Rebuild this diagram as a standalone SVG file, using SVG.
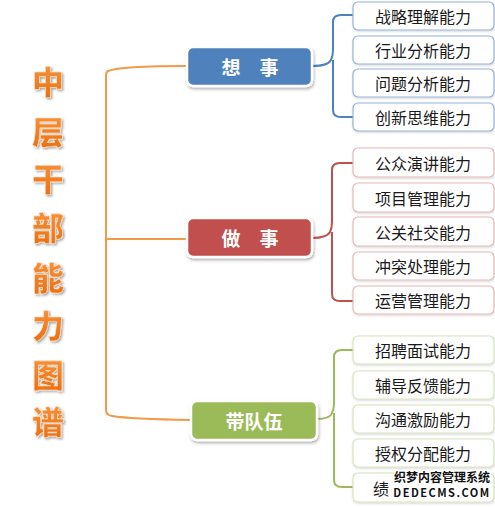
<svg xmlns="http://www.w3.org/2000/svg" width="495" height="507" viewBox="0 0 495 507">
<defs>
<filter id="sh" x="-20%" y="-30%" width="140%" height="170%"><feDropShadow dx="1" dy="2" stdDeviation="1.5" flood-color="#000" flood-opacity="0.3"/></filter>
<filter id="sh2" x="-10%" y="-30%" width="120%" height="160%"><feDropShadow dx="0.5" dy="1" stdDeviation="0.8" flood-color="#000" flood-opacity="0.18"/></filter>
<filter id="tsh" x="-30%" y="-30%" width="160%" height="160%"><feDropShadow dx="1.5" dy="1.5" stdDeviation="1" flood-color="#000" flood-opacity="0.35"/></filter>
<linearGradient id="og" x1="0" y1="0" x2="0" y2="1"><stop offset="0" stop-color="#F89A45"/><stop offset="1" stop-color="#EC6A0C"/></linearGradient>
</defs>
<style>
.title{font-family:"Noto Sans CJK SC","Noto Sans CJK JP",sans-serif;font-weight:900;font-size:32px;fill:url(#og);stroke:#FFE2C4;stroke-width:0.6;text-anchor:middle;dominant-baseline:central;filter:url(#tsh)}
.main{stroke:#fff;stroke-width:2.5;filter:url(#sh)}
.mt{font-family:"Noto Sans CJK SC",sans-serif;font-weight:bold;font-size:19px;fill:#fff;text-anchor:middle;dominant-baseline:central}
.sub{fill:#fff;stroke-width:1.2;filter:url(#sh2)}
.st{font-family:"Noto Sans CJK SC",sans-serif;font-size:16px;fill:#1a1a1a;text-anchor:middle;dominant-baseline:central}
.conn{fill:none;stroke-width:2}
.wm{font-family:"Noto Sans CJK SC",sans-serif;font-weight:bold;fill:#111;stroke:#fff;stroke-width:2.5;paint-order:stroke;text-anchor:middle;dominant-baseline:central}
</style>
<g id="title">
<text class="title" x="48" y="80">中</text>
<text class="title" x="48" y="130">层</text>
<text class="title" x="48" y="177">干</text>
<text class="title" x="48" y="226">部</text>
<text class="title" x="48" y="276">能</text>
<text class="title" x="48" y="324">力</text>
<text class="title" x="48" y="373">图</text>
<text class="title" x="48" y="420">谱</text>
</g>
<g id="connectors">
<path class="conn" stroke="#F39A4A" d="M187,66 Q120,66 108,71 Q106,72 106,76 L106,410 Q106,415 112,416 Q130,419 191,420"/>
<path class="conn" stroke="#F39A4A" d="M106,239 L187,239"/>
<path class="conn" stroke="#4F81BD" d="M312,66 Q328,66 331,60 Q333,56 333,50 L333,22 Q333,15 341,15 L353,15 M333,60 L333,110 Q333,117 341,117 L353,117"/>
<path class="conn" stroke="#C0504D" d="M312,238 Q327,238 330,232 Q332,228 332,222 L332,170 Q332,163 340,163 L353,163 M332,232 L332,294 Q332,301 340,301 L353,301"/>
<path class="conn" stroke="#9BBB59" d="M317,419 Q330,419 332,413 Q334,409 334,403 L334,357 Q334,350 342,350 L353,350 M334,413 L334,480 Q334,487 342,487 L353,487"/>
</g>
<g id="node-xiangshi">
<rect class="main" x="187" y="47" width="125" height="39" rx="6" fill="#4F81BD"/>
<text class="mt" x="250" y="66">想　事</text>
</g>
<g id="node-zuoshi">
<rect class="main" x="187" y="218" width="125" height="39" rx="6" fill="#C0504D"/>
<text class="mt" x="250" y="237">做　事</text>
</g>
<g id="node-daiduiwu">
<rect class="main" x="191" y="401" width="126" height="39" rx="6" fill="#9BBB59"/>
<text class="mt" x="254" y="420">带队伍</text>
</g>
<g id="sub-blue">
<rect class="sub" stroke="#95B3D7" x="353" y="2" width="141" height="28" rx="5"/><text class="st" x="423" y="16">战略理解能力</text>
<rect class="sub" stroke="#95B3D7" x="353" y="36" width="141" height="28" rx="5"/><text class="st" x="423" y="50">行业分析能力</text>
<rect class="sub" stroke="#95B3D7" x="353" y="69" width="141" height="28" rx="5"/><text class="st" x="423" y="83">问题分析能力</text>
<rect class="sub" stroke="#95B3D7" x="353" y="103" width="141" height="28" rx="5"/><text class="st" x="423" y="117">创新思维能力</text>
</g>
<g id="sub-red">
<rect class="sub" stroke="#E6B9B8" x="353" y="148" width="141" height="29" rx="5"/><text class="st" x="423" y="162.5">公众演讲能力</text>
<rect class="sub" stroke="#E6B9B8" x="353" y="183" width="141" height="29" rx="5"/><text class="st" x="423" y="197.5">项目管理能力</text>
<rect class="sub" stroke="#E6B9B8" x="353" y="217" width="141" height="29" rx="5"/><text class="st" x="423" y="231.5">公关社交能力</text>
<rect class="sub" stroke="#E6B9B8" x="353" y="252" width="141" height="28" rx="5"/><text class="st" x="423" y="266">冲突处理能力</text>
<rect class="sub" stroke="#E6B9B8" x="353" y="286" width="141" height="28" rx="5"/><text class="st" x="423" y="300">运营管理能力</text>
</g>
<g id="sub-green">
<rect class="sub" stroke="#D7E4BD" x="353" y="336" width="141" height="28" rx="5"/><text class="st" x="423" y="350">招聘面试能力</text>
<rect class="sub" stroke="#D7E4BD" x="353" y="371" width="141" height="28" rx="5"/><text class="st" x="423" y="385">辅导反馈能力</text>
<rect class="sub" stroke="#D7E4BD" x="353" y="405" width="141" height="28" rx="5"/><text class="st" x="423" y="419">沟通激励能力</text>
<rect class="sub" stroke="#D7E4BD" x="353" y="439" width="141" height="28" rx="5"/><text class="st" x="423" y="453">授权分配能力</text>
<rect class="sub" stroke="#D7E4BD" x="353" y="473" width="141" height="29" rx="5"/><text class="st" x="381" y="488">绩</text>
</g>
<g id="watermark">
<text class="wm" x="442" y="476" font-size="12">织梦内容管理系统</text>
<text class="wm" x="442" y="492" font-size="11" letter-spacing="1.5" font-family="DejaVu Sans Mono">DEDECMS.COM</text>
</g>
</svg>
